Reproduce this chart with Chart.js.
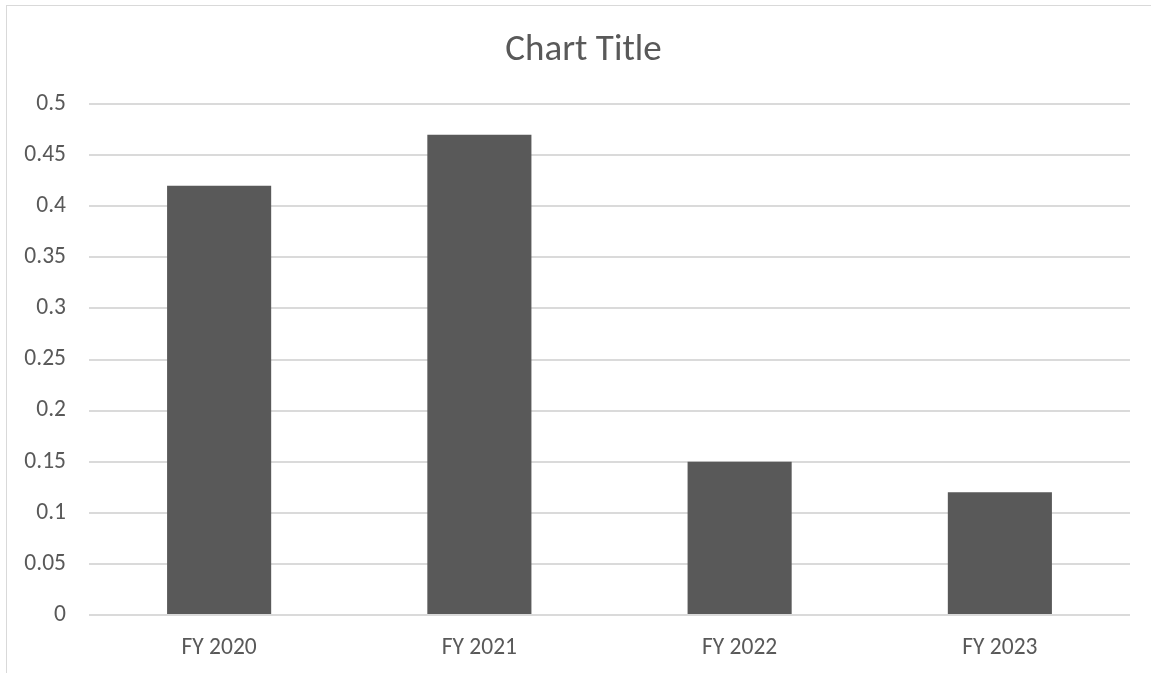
<!DOCTYPE html>
<html>
<head>
<meta charset="utf-8">
<script src="https://cdn.jsdelivr.net/npm/chart.js@4/dist/chart.umd.min.js"></script>
<style>
  html, body { margin: 0; padding: 0; background: #ffffff; overflow: hidden; }
  #wrap { position: absolute; left: 0; top: 0; width: 1151px; height: 673px; }
  #frame { position: absolute; left: 6px; top: 5px; width: 1200px; height: 720px;
           border: 1px solid #d9d9d9; box-sizing: border-box; pointer-events: none; }
</style>
</head>
<body>
<div id="wrap"><canvas id="chart" width="1151" height="673"></canvas></div>
<div id="frame"></div>
<script>
// Fiscal years and their values
const categories = ['FY 2020', 'FY 2021', 'FY 2022', 'FY 2023'];
const seriesValues = [0.42, 0.47, 0.15, 0.12];
const yTickLabels = ['0', '0.05', '0.1', '0.15', '0.2', '0.25', '0.3', '0.35', '0.4', '0.45', '0.5'];

const textColor = '#595959';
const fontFamily = 'Carlito, Lato, "Liberation Sans", sans-serif';

new Chart(document.getElementById('chart'), {
  type: 'bar',
  data: {
    labels: categories,
    datasets: [{
      data: seriesValues,
      backgroundColor: '#595959',
      borderWidth: 0,
      categoryPercentage: 1.0,
      barPercentage: 0.4
    }]
  },
  options: {
    responsive: false,
    animation: false,
    devicePixelRatio: 1,
    layout: { padding: { left: 37, right: 21, top: 0, bottom: 0 } },
    plugins: {
      legend: { display: false },
      tooltip: { enabled: false },
      title: {
        display: true,
        text: 'Chart Title',
        color: textColor,
        font: { family: fontFamily, size: 37, weight: 'normal' },
        padding: { top: 29, bottom: 30.6 }
      }
    },
    scales: {
      x: {
        grid: { display: false },
        border: { display: false },
        ticks: {
          color: textColor,
          font: { family: fontFamily, size: 23.5 },
          padding: 11,
          maxRotation: 0
        },
        afterFit: (scale) => { scale.height = 673 - 615; }
      },
      y: {
        min: 0,
        max: 0.5,
        grid: { color: '#dadada', lineWidth: 2, drawTicks: false },
        border: { display: false },
        ticks: {
          stepSize: 0.05,
          color: textColor,
          font: { family: fontFamily, size: 23.5 },
          padding: 23,
          callback: (value, index) => yTickLabels[index]
        },
        afterFit: (scale) => {
          scale.width = 52;
          // let the tick labels run into the left margin instead of being clipped
          scale._computeLabelArea = () => undefined;
        }
      }
    }
  }
});
</script>
</body>
</html>
